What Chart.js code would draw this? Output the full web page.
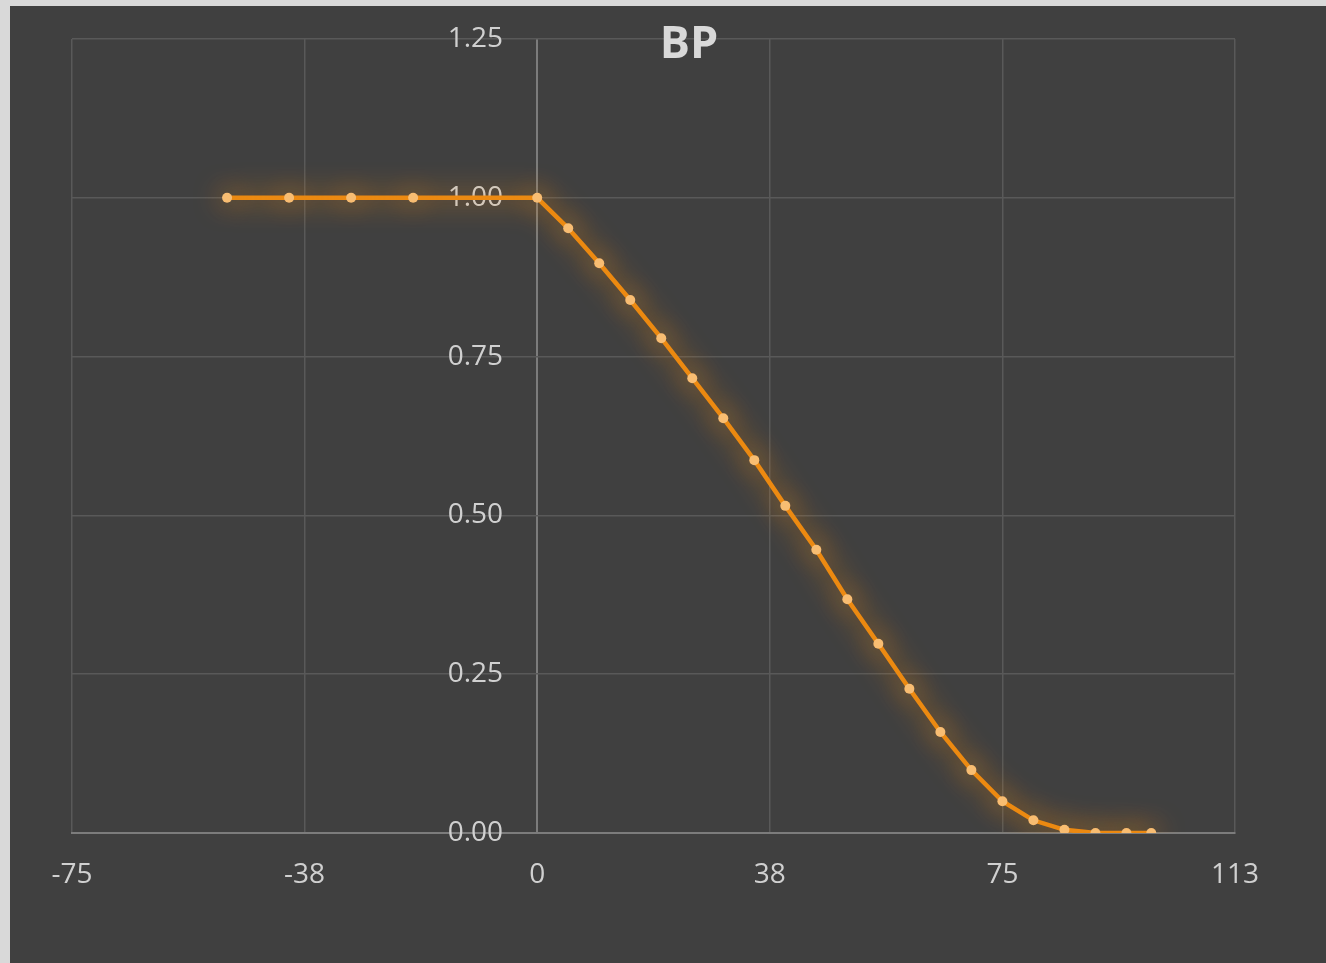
<!DOCTYPE html>
<html>
<head>
<meta charset="utf-8">
<script src="https://cdn.jsdelivr.net/npm/chart.js@4"></script>
<style>
  html, body { margin: 0; padding: 0; background: #d9d9d9; }
  #frame { position: absolute; left: 10px; top: 6px; width: 1316px; height: 957px; background: #404040; }
  canvas { display: block; }
</style>
</head>
<body>
<div id="frame"><canvas id="c" width="1316" height="957"></canvas></div>
<script>
// BP curve: x position vs. value
const xValues = [-50, -40, -30, -20, 0, 5, 10, 15, 20, 25, 30, 35, 40, 45, 50, 55, 60, 65, 70, 75, 80, 85, 90, 95, 99];
const bpValues = [1.0, 1.0, 1.0, 1.0, 1.0, 0.952, 0.897, 0.839, 0.779, 0.716, 0.653, 0.587, 0.515, 0.446, 0.368, 0.298, 0.227, 0.159, 0.099, 0.050, 0.020, 0.005, 0.0, 0.0, 0.0];
const xTickLabels = ['-75', '-38', '0', '38', '75', '113'];
const yTickLabels = ['0.00', '0.25', '0.50', '0.75', '1.00', '1.25'];
const chartTitle = 'BP';

const FONT = '"Open Sans", "Noto Sans", sans-serif';
const TEXT = '#d0d0d0';
const GRID = '#595959';
const AXIS = '#7c7c7c';

// soft orange glow behind the series
const glow = {
  id: 'glow',
  beforeDatasetsDraw(chart) {
    const ctx = chart.ctx;
    ctx.save();
    ctx.shadowColor = 'rgba(245,145,25,0.95)';
    ctx.shadowBlur = 28;
  },
  afterDatasetsDraw(chart) {
    chart.ctx.restore();
  }
};

// title overlaid on the plot
const overlayTitle = {
  id: 'overlayTitle',
  afterDraw(chart) {
    const ctx = chart.ctx;
    ctx.save();
    ctx.font = 'bold 45px ' + FONT;
    ctx.fillStyle = '#d9d9d9';
    ctx.textAlign = 'center';
    ctx.textBaseline = 'alphabetic';
    ctx.fillText(chartTitle, 679, 52);
    ctx.restore();
  }
};

const points = xValues.map((x, i) => ({ x: x, y: bpValues[i] }));

new Chart(document.getElementById('c'), {
  type: 'scatter',
  data: {
    datasets: [{
      label: chartTitle,
      data: points,
      showLine: true,
      borderColor: '#ec8a12',
      borderWidth: 4.5,
      pointRadius: 5,
      pointBackgroundColor: '#f8bd72',
      pointBorderWidth: 0,
      pointHoverRadius: 5,
      tension: 0
    }]
  },
  options: {
    responsive: false,
    animation: false,
    events: [],
    layout: { padding: { left: 62, right: 91, top: 33, bottom: 0 } },
    plugins: {
      legend: { display: false },
      tooltip: { enabled: false },
      title: { display: false }
    },
    scales: {
      x: {
        type: 'linear',
        position: 'bottom',
        min: -75,
        max: 112.5,
        afterBuildTicks(scale) {
          scale.ticks = xTickLabels.map((_, i) => ({ value: -75 + i * 37.5 }));
        },
        afterFit(scale) {
          scale.height = 130;
          scale.paddingLeft = 0;
          scale.paddingRight = 0;
        },
        ticks: {
          callback: (v, i) => xTickLabels[i],
          color: TEXT,
          font: { family: FONT, size: 28 },
          padding: 25,
          maxRotation: 0,
          autoSkip: false
        },
        grid: {
          // the zero line doubles as the vertical axis
          color: (c) => (c.tick && c.tick.value === 0 ? AXIS : GRID),
          lineWidth: (c) => (c.tick && c.tick.value === 0 ? 2 : 1.5),
          drawTicks: false
        },
        border: { display: true, color: AXIS, width: 2 }
      },
      y: {
        type: 'linear',
        // labels sit just left of the zero line
        position: { x: -5.5 },
        min: 0,
        max: 1.25,
        afterBuildTicks(scale) {
          scale.ticks = yTickLabels.map((_, i) => ({ value: i * 0.25 }));
        },
        afterFit(scale) {
          scale.paddingTop = 0;
          scale.paddingBottom = 0;
        },
        ticks: {
          callback: (v, i) => yTickLabels[i],
          color: TEXT,
          font: { family: FONT, size: 28 },
          autoSkip: false
        },
        grid: { color: GRID, lineWidth: 1.5, drawTicks: false },
        border: { display: false }
      }
    }
  },
  plugins: [glow, overlayTitle]
});
</script>
</body>
</html>
